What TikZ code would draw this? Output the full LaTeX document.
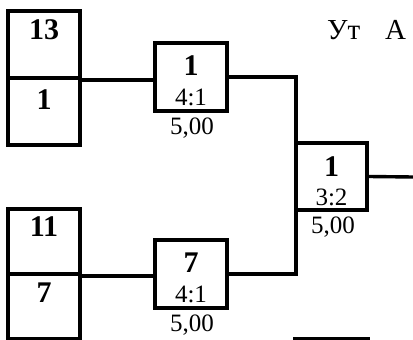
\documentclass[tikz,border=0pt]{standalone}
\usepackage{fontspec}
\setmainfont{Liberation Serif}
\begin{document}
\begin{tikzpicture}[x=1pt,y=-1pt,
  cell/.style={draw,line width=3.8pt,rectangle,minimum width=72pt,inner sep=0pt},
  conn/.style={line width=3.4pt},
  big/.style={font=\fontsize{30}{32}\selectfont\bfseries,inner sep=0pt},
  small/.style={font=\fontsize{25}{28}\selectfont,inner sep=0pt}]
\useasboundingbox (0,0) rectangle (413,340);
% left boxes
\node[cell,minimum height=67pt] (a1) at (44,44.5) {};
\node[cell,minimum height=67pt] (a2) at (44,111.5) {};
\node[cell,minimum height=65pt] (b1) at (44,241.5) {};
\node[cell,minimum height=65pt] (b2) at (44,306.5) {};
\node[big] (ta1) at (44,30) {13};
\node[big] (ta2) at (44,100) {1};
\node[big] (tb1) at (44,227) {11};
\node[big] (tb2) at (44,293) {7};
% middle boxes
\node[cell,minimum height=68pt] (m1) at (191,77) {};
\node[cell,minimum height=68pt] (m2) at (191,274) {};
\node[big] (tm1) at (191,66) {1};
\node[small] (sm1) at (191,97) {4:1};
\node[small] (vm1) at (192,128) {5,00};
\node[big] (tm2) at (191,263) {7};
\node[small] (sm2) at (191,294) {4:1};
\node[small] (vm2) at (192,325) {5,00};
% right box
\node[cell,minimum width=71pt,minimum height=67pt] (r) at (331.5,176.5) {};
\node[big] (tr) at (331.5,167) {1};
\node[small] (sr) at (331.5,197) {3:2};
\node[small] (vr) at (333,227) {5,00};
% partial box at bottom
\node[cell,minimum width=73pt,minimum height=60pt] (q) at (331.5,369) {};
% title
\node[anchor=west,inner sep=0pt,font=\fontsize{29}{32}\selectfont] (title1) at (327,30) {Ут};
\node[anchor=west,inner sep=0pt,font=\fontsize{29}{32}\selectfont] (title2) at (385,30) {А};
% connectors
\coordinate (j) at (296,77);
\draw[conn] (a1.south east) -- (a1.south east -| m1.west);
\draw[conn] (b1.south east) -- (b1.south east -| m2.west);
\draw[conn] (m1.east) -- (j) -- (j |- m2.east) -- (m2.east);
\coordinate (e) at (413,177);
\draw[conn] (r.east) -- (e);
\end{tikzpicture}
\end{document}
